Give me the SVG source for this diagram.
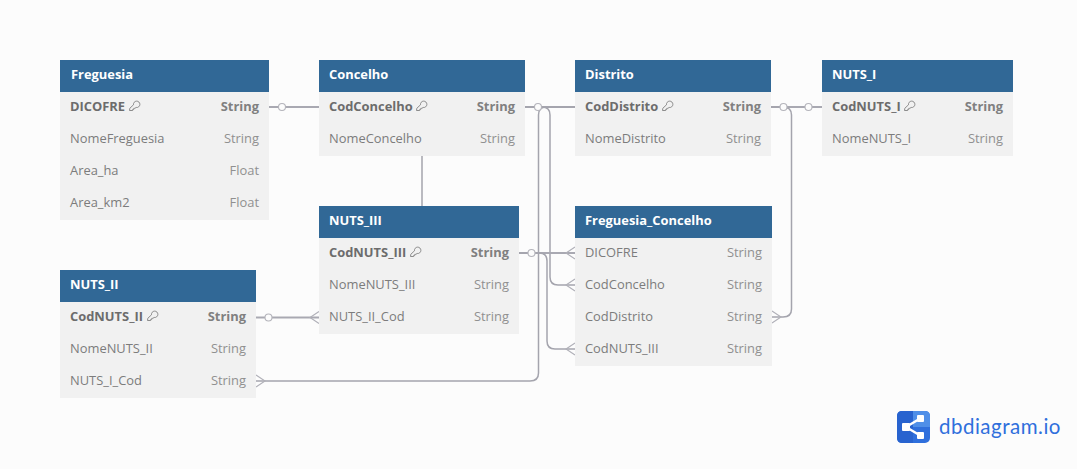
<svg xmlns="http://www.w3.org/2000/svg" width="1077" height="469" viewBox="0 0 1077 469">
<style>
.h{fill:#316896}.b{fill:#f1f1f1}
text{font-family:"Open Sans","Noto Sans",sans-serif;font-size:12.9px;fill:#7c7c7c}
.t{font-weight:700;fill:#fff}
.k{font-weight:700;fill:#6c6c6c}
.kt{font-weight:700;fill:#808080;text-anchor:end}
.ty{fill:#909090;text-anchor:end}
.c{fill:none;stroke:#a9a9b2;stroke-width:2}
.r{fill:none;stroke:#a4a4ad;stroke-width:1.500}
.e{fill:none;stroke:#b0b0b8;stroke-width:1.100}
.o{fill:#fcfcfc;stroke:#b4b4bb;stroke-width:1.100}
.key{fill:none;stroke:#808080;stroke-width:.9}
</style>
<defs>
<path id="key" class="key" d="M0 9.500 L0.300 7.300 L4 3.800 A3.200 3.200 0 1 1 6.700 6.500 L5.300 7.300 L4.300 7.300 L4.300 8.400 L3.200 8.400 L3.200 9.500 Z"/>
<path id="crowL" class="e" d="M0 -6 L-9 0 L0 6"/>
<path id="crowR" class="e" d="M0 -6 L9 0 L0 6"/>
</defs>
<rect width="1077" height="469" fill="#fcfcfc"/>
<g id="connectors">
<path class="c" d="M269 107H319"/>
<path class="r" d="M422 156V206"/>
<path class="c" d="M525 107H575"/>
<path class="r" d="M575 107H546Q538.500 107 538.500 115V373Q538.500 381 530 381H256"/>
<path class="r" d="M525 107H542Q550 107 550 115V277Q550 285 558 285H575"/>
<path class="c" d="M519 253H575"/>
<path class="r" d="M519 253H539Q547 253 547 261V341Q547 349 555 349H575"/>
<path class="c" d="M771 107H822"/>
<path class="r" d="M771 107H783Q791.500 107 791.500 115V309Q791.500 317 783 317H772"/>
<path class="c" d="M256 317.500H319"/>
<circle class="o" cx="282" cy="107" r="3.500"/>
<circle class="o" cx="538" cy="107" r="3.500"/>
<circle class="o" cx="531.500" cy="253" r="3.500"/>
<circle class="o" cx="783.500" cy="107" r="3.500"/>
<circle class="o" cx="808.500" cy="107" r="3.500"/>
<circle class="o" cx="268.500" cy="317.500" r="3.500"/>
<use href="#crowL" x="575" y="253"/>
<use href="#crowL" x="575" y="285"/>
<use href="#crowL" x="575" y="349"/>
<use href="#crowL" x="319" y="317.500"/>
<use href="#crowR" x="772" y="317"/>
<use href="#crowR" x="256" y="381"/>
</g>
<g id="Freguesia">
<rect class="b" x="60" y="92" width="209" height="128"/><rect class="h" x="60" y="60" width="209" height="32"/>
<text class="t" x="71" y="79">Freguesia</text>
<text class="k" x="70" y="111">DICOFRE</text><use href="#key" x="129.500" y="101"/><text class="kt" x="259" y="111">String</text>
<text x="70" y="143">NomeFreguesia</text><text class="ty" x="259" y="143">String</text>
<text x="70" y="175">Area_ha</text><text class="ty" x="259" y="175">Float</text>
<text x="70" y="207">Area_km2</text><text class="ty" x="259" y="207">Float</text>
</g>
<g id="Concelho">
<rect class="b" x="319" y="92" width="206" height="64"/><rect class="h" x="319" y="60" width="206" height="32"/>
<text class="t" x="329" y="79">Concelho</text>
<text class="k" x="329" y="111">CodConcelho</text><use href="#key" x="416.500" y="101"/><text class="kt" x="515" y="111">String</text>
<text x="329" y="143">NomeConcelho</text><text class="ty" x="515" y="143">String</text>
</g>
<g id="Distrito">
<rect class="b" x="575" y="92" width="196" height="64"/><rect class="h" x="575" y="60" width="196" height="32"/>
<text class="t" x="585" y="79">Distrito</text>
<text class="k" x="585" y="111">CodDistrito</text><use href="#key" x="662.500" y="101"/><text class="kt" x="761" y="111">String</text>
<text x="585" y="143">NomeDistrito</text><text class="ty" x="761" y="143">String</text>
</g>
<g id="NUTS_I">
<rect class="b" x="822" y="92" width="191" height="64"/><rect class="h" x="822" y="60" width="191" height="32"/>
<text class="t" x="832" y="79">NUTS_I</text>
<text class="k" x="832" y="111">CodNUTS_I</text><use href="#key" x="904.500" y="101"/><text class="kt" x="1003" y="111">String</text>
<text x="832" y="143">NomeNUTS_I</text><text class="ty" x="1003" y="143">String</text>
</g>
<g id="NUTS_III">
<rect class="b" x="319" y="238" width="200" height="96"/><rect class="h" x="319" y="206" width="200" height="32"/>
<text class="t" x="329" y="225">NUTS_III</text>
<text class="k" x="329" y="257">CodNUTS_III</text><use href="#key" x="410.500" y="247"/><text class="kt" x="509" y="257">String</text>
<text x="329" y="289">NomeNUTS_III</text><text class="ty" x="509" y="289">String</text>
<text x="329" y="321">NUTS_II_Cod</text><text class="ty" x="509" y="321">String</text>
</g>
<g id="Freguesia_Concelho">
<rect class="b" x="575" y="238" width="197" height="128"/><rect class="h" x="575" y="206" width="197" height="32"/>
<text class="t" x="585" y="225">Freguesia_Concelho</text>
<text x="585" y="257">DICOFRE</text><text class="ty" x="762" y="257">String</text>
<text x="585" y="289">CodConcelho</text><text class="ty" x="762" y="289">String</text>
<text x="585" y="321">CodDistrito</text><text class="ty" x="762" y="321">String</text>
<text x="585" y="353">CodNUTS_III</text><text class="ty" x="762" y="353">String</text>
</g>
<g id="NUTS_II">
<rect class="b" x="60" y="302" width="196" height="96"/><rect class="h" x="60" y="270" width="196" height="32"/>
<text class="t" x="70" y="289">NUTS_II</text>
<text class="k" x="70" y="321">CodNUTS_II</text><use href="#key" x="147.500" y="311"/><text class="kt" x="246" y="321">String</text>
<text x="70" y="353">NomeNUTS_II</text><text class="ty" x="246" y="353">String</text>
<text x="70" y="385">NUTS_I_Cod</text><text class="ty" x="246" y="385">String</text>
</g>
<g id="logo">
<rect x="897" y="411" width="33" height="32" rx="5" fill="#2f6fdc"/>
<path d="M913 411H925Q930 411 930 416V427H913Z" fill="#4f8fe8"/>
<path d="M897 416Q897 411 902 411H913V443H902Q897 443 897 438Z" fill="#2863cf"/>
<path d="M906 427L921 418M906 427L921 436" stroke="#fff" stroke-width="2.500" fill="none"/>
<rect x="902" y="423" width="8" height="8" rx="1" fill="#fff"/>
<rect x="917" y="415" width="7" height="7" rx="1" fill="#fff"/>
<rect x="917" y="432" width="7" height="7" rx="1" fill="#fff"/>
<text x="939" y="434" style="font-family:Lato,'Open Sans',sans-serif;font-size:20.500px;font-weight:400;fill:#2f6fdc;letter-spacing:.5px">dbdiagram.io</text>
</g>
</svg>
